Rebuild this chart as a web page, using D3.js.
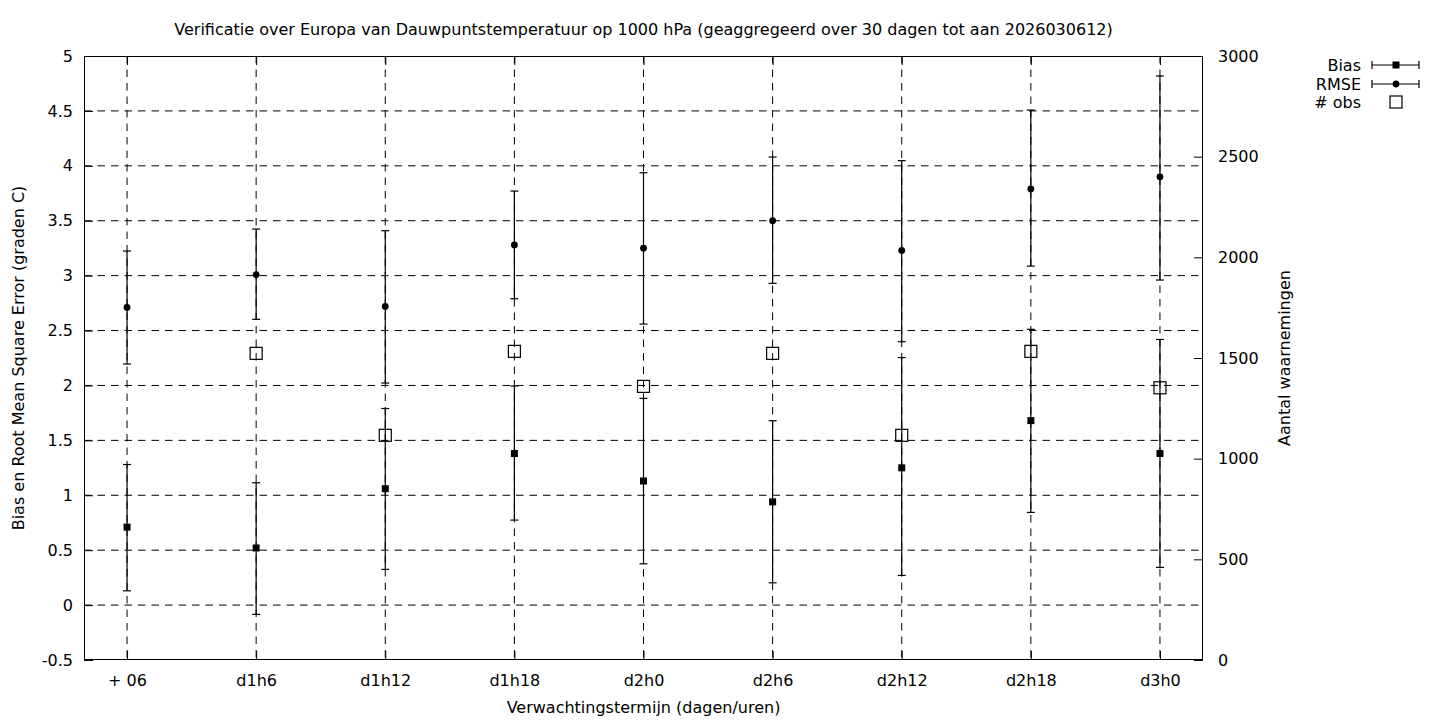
<!DOCTYPE html>
<html>
<head>
<meta charset="utf-8">
<script src="https://cdn.jsdelivr.net/npm/d3@7"></script>
<style>
  html, body { margin: 0; padding: 0; background: #fff; }
  svg { display: block; font-family: "DejaVu Sans", sans-serif; }
</style>
</head>
<body>
<svg id="chart" width="1440" height="720"></svg>
<script>
const categories = ["+ 06","d1h6","d1h12","d1h18","d2h0","d2h6","d2h12","d2h18","d3h0"];
const biasMean = [0.71, 0.52, 1.06, 1.38, 1.13, 0.94, 1.25, 1.68, 1.38];
const biasLow  = [0.13, -0.085, 0.325, 0.774, 0.376, 0.203, 0.270, 0.844, 0.343];
const biasHigh = [1.28, 1.114, 1.79, 1.995, 1.882, 1.679, 2.254, 2.511, 2.419];
const rmseMean = [2.71, 3.01, 2.72, 3.28, 3.25, 3.50, 3.23, 3.79, 3.90];
const rmseLow  = [2.195, 2.602, 2.022, 2.79, 2.559, 2.93, 2.398, 3.087, 2.96];
const rmseHigh = [3.224, 3.424, 3.409, 3.77, 3.937, 4.08, 4.047, 4.508, 4.818];
const obsCount = [null, 1523, 1116, 1533, 1359, 1523, 1116, 1533, 1352];
const leftTicks = [-0.5,0,0.5,1,1.5,2,2.5,3,3.5,4,4.5,5];
const leftTickLabels = ["-0.5","0","0.5","1","1.5","2","2.5","3","3.5","4","4.5","5"];
const rightTicks = [0,500,1000,1500,2000,2500,3000];

const title = "Verificatie over Europa van Dauwpuntstemperatuur op 1000 hPa (geaggregeerd over 30 dagen tot aan 2026030612)";
const xLabel = "Verwachtingstermijn (dagen/uren)";
const yLabel = "Bias en Root Mean Square Error (graden C)";
const y2Label = "Aantal waarnemingen";

const L = 84, R = 1203, T = 56, B = 660;
const FS = 16;
const svg = d3.select("#chart");

const x = d3.scalePoint().domain(categories).range([L, R]).padding(1/3);
const y = d3.scaleLinear().domain([-0.5, 5]).range([B, T]);
const y2 = d3.scaleLinear().domain([0, 3000]).range([B, T]);

const dash = "7.5,6";
// grid
const g = svg.append("g");
g.selectAll("line.h").data(leftTicks.filter(v => v > -0.5 && v < 5)).join("line")
  .attr("x1", L).attr("x2", R).attr("y1", d => y(d)).attr("y2", d => y(d))
  .attr("stroke", "#000").attr("stroke-width", 1).attr("stroke-dasharray", dash);
g.selectAll("line.v").data(categories).join("line")
  .attr("x1", d => x(d)).attr("x2", d => x(d)).attr("y1", T).attr("y2", B)
  .attr("stroke", "#000").attr("stroke-width", 1).attr("stroke-dasharray", dash);

// axes via d3 axis, ticks inward
const axL = d3.axisLeft(y).tickValues(leftTicks).tickSize(-9).tickPadding(11)
  .tickFormat((d, i) => leftTickLabels[i]);
const axR = d3.axisRight(y2).tickValues(rightTicks).tickSize(-9).tickPadding(15).tickFormat(d3.format("d"));
const axB = d3.axisBottom(x).tickSize(-9).tickPadding(15);
const axT = d3.axisTop(x).tickSize(-9).tickFormat("");

function style(sel) {
  sel.select(".domain").remove();
  sel.selectAll("line").attr("stroke", "#000").attr("stroke-width", 1);
  sel.selectAll("text").attr("font-size", FS).attr("fill", "#000").attr("font-family", "DejaVu Sans, sans-serif");
}
svg.append("g").attr("transform", `translate(${L},0)`).call(axL).call(style);
svg.append("g").attr("transform", `translate(${R},0)`).call(axR).call(style)
  .selectAll("text").attr("text-anchor", "start");
svg.append("g").attr("transform", `translate(0,${B})`).call(axB).call(style);
svg.append("g").attr("transform", `translate(0,${T})`).call(axT).call(style);

// border
svg.append("rect").attr("x", L + 0.5).attr("y", T + 0.5).attr("width", R - L - 1).attr("height", B - T - 1)
  .attr("fill", "none").attr("stroke", "#000").attr("stroke-width", 1);

// error bars
const cap = 4;
function errbars(low, high, cls) {
  const gg = svg.append("g").attr("class", cls);
  categories.forEach((c, i) => {
    const cx = x(c);
    gg.append("line").attr("x1", cx).attr("x2", cx).attr("y1", y(low[i])).attr("y2", y(high[i]))
      .attr("stroke", "#000").attr("stroke-width", 1.2);
    [low[i], high[i]].forEach(v => {
      gg.append("line").attr("x1", cx - cap).attr("x2", cx + cap).attr("y1", y(v)).attr("y2", y(v))
        .attr("stroke", "#000").attr("stroke-width", 1.2);
    });
  });
}
errbars(biasLow, biasHigh, "bias");
errbars(rmseLow, rmseHigh, "rmse");

// points
svg.append("g").selectAll("rect").data(categories).join("rect")
  .attr("x", (d) => x(d) - 3.5).attr("y", (d, i) => y(biasMean[i]) - 3.5)
  .attr("width", 7).attr("height", 7).attr("fill", "#000");
svg.append("g").selectAll("circle").data(categories).join("circle")
  .attr("cx", d => x(d)).attr("cy", (d, i) => y(rmseMean[i])).attr("r", 3.4).attr("fill", "#000");
const obsData = categories.map((c, i) => ({c, v: obsCount[i]})).filter(d => d.v != null);
svg.append("g").selectAll("rect").data(obsData).join("rect")
  .attr("x", d => x(d.c) - 6).attr("y", d => y2(d.v) - 6)
  .attr("width", 12).attr("height", 12).attr("fill", "none").attr("stroke", "#000").attr("stroke-width", 1.2);

// texts
svg.append("text").attr("x", (L + R) / 2).attr("y", 35).attr("text-anchor", "middle")
  .attr("font-size", FS).text(title);
svg.append("text").attr("x", (L + R) / 2).attr("y", 713).attr("text-anchor", "middle")
  .attr("font-size", FS).text(xLabel);
svg.append("text").attr("transform", `translate(24,${(T + B) / 2}) rotate(-90)`).attr("text-anchor", "middle")
  .attr("font-size", FS).text(yLabel);
svg.append("text").attr("transform", `translate(1290,${(T + B) / 2}) rotate(-90)`).attr("text-anchor", "middle")
  .attr("font-size", FS).text(y2Label);

// legend
const legend = [
  {name: "Bias", type: "bias", yy: 65},
  {name: "RMSE", type: "rmse", yy: 84},
  {name: "# obs", type: "obs", yy: 102}
];
const lg = svg.append("g");
legend.forEach(d => {
  lg.append("text").attr("x", 1361).attr("y", d.yy).attr("dy", "0.35em").attr("text-anchor", "end")
    .attr("font-size", FS).text(d.name);
  const x1 = 1372, x2 = 1419, mx = 1396;
  if (d.type !== "obs") {
    lg.append("line").attr("x1", x1).attr("x2", x2).attr("y1", d.yy).attr("y2", d.yy).attr("stroke", "#000").attr("stroke-width", 1.2);
    [x1, x2].forEach(xx => lg.append("line").attr("x1", xx).attr("x2", xx).attr("y1", d.yy - cap).attr("y2", d.yy + cap).attr("stroke", "#000").attr("stroke-width", 1.2));
    if (d.type === "bias") lg.append("rect").attr("x", mx - 3.5).attr("y", d.yy - 3.5).attr("width", 7).attr("height", 7).attr("fill", "#000");
    else lg.append("circle").attr("cx", mx).attr("cy", d.yy).attr("r", 3.4).attr("fill", "#000");
  } else {
    lg.append("rect").attr("x", mx - 6).attr("y", d.yy - 6).attr("width", 12).attr("height", 12).attr("fill", "none").attr("stroke", "#000").attr("stroke-width", 1.2);
  }
});
</script>
</body>
</html>
